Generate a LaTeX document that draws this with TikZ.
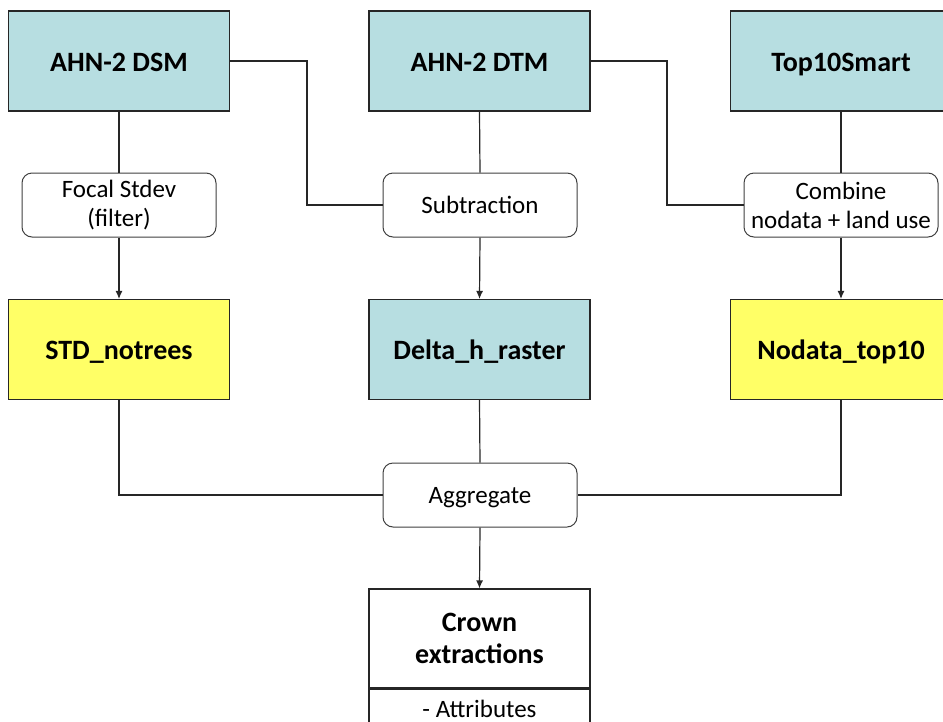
\documentclass[tikz,border=0pt]{standalone}
\usepackage{fontspec}
\setmainfont{Carlito}
\usetikzlibrary{arrows.meta}
\definecolor{boxblue}{RGB}{183,222,225}
\definecolor{boxyellow}{RGB}{255,255,102}
\begin{document}
\begin{tikzpicture}[x=1pt,y=-1pt,
  databox/.style={draw=black!85, line width=1.1pt, minimum width=221pt, minimum height=100pt, inner sep=0pt, font=\fontsize{28}{32}\selectfont\bfseries, align=center},
  oneline/.style={text height=20pt, text depth=0pt},
  procbox/.style={draw=black!75, line width=1pt, rounded corners=10pt, fill=white, minimum width=194pt, minimum height=64pt, inner sep=0pt, font=\fontsize{25}{29}\selectfont, align=center},
  oneproc/.style={text height=16pt, text depth=0pt},
  conn/.style={line width=1.2pt, draw=black!85},
  arr/.style={conn, -{Latex[length=8pt,width=7pt]}}
]
\useasboundingbox (0,0) rectangle (943,721);
% top row
\node[databox, oneline, fill=boxblue] (dsm) at (119,61) {AHN-2 DSM};
\node[databox, oneline, fill=boxblue] (dtm) at (479.5,61) {AHN-2 DTM};
\node[databox, oneline, fill=boxblue] (top) at (841,61) {Top10Smart};
% process row
\node[procbox] (focal) at (119,205) {Focal Stdev\\(filter)};
\node[procbox, oneproc] (sub) at (480,205) {Subtraction};
\node[procbox] (comb) at (841,205) {Combine\\nodata + land use};
% second row
\node[databox, oneline, fill=boxyellow] (std) at (119,349.5) {STD\_notrees};
\node[databox, oneline, fill=boxblue] (delta) at (479.5,349.5) {Delta\_h\_raster};
\node[databox, oneline, fill=boxyellow] (nod) at (841,349.5) {Nodata\_top10};
% aggregate
\node[procbox, oneproc] (agg) at (480,495) {Aggregate};
% crown
\node[databox, fill=white, minimum height=99pt] (crown) at (479.5,638.5) {Crown\\extractions};
\node[draw=black!85, line width=1.1pt, minimum width=221pt, minimum height=52pt, inner sep=0pt, anchor=north] (attr) at (crown.south) {};
\node[font=\fontsize{25}{29}\selectfont, anchor=base] (attrtxt) at (479.5,717) {- Attributes};
% coordinates
\coordinate (k1) at (307,205);
\coordinate (k2) at (667,205);
% connectors
\draw[conn] (dsm.south) -- (focal.north);
\draw[arr] (focal.south) -- (std.north);
\draw[conn] (dtm.south) -- (sub.north);
\draw[arr] (sub.south) -- (delta.north);
\draw[conn] (top.south) -- (comb.north);
\draw[arr] (comb.south) -- (nod.north);
\draw[conn] (dsm.east) -| (k1) -- (sub.west);
\draw[conn] (dtm.east) -| (k2) -- (comb.west);
\draw[conn] (std.south) |- (agg.west);
\draw[conn] (nod.south) |- (agg.east);
\draw[conn] (delta.south) -- (agg.north);
\draw[arr] (agg.south) -- (crown.north);
\end{tikzpicture}
\end{document}
